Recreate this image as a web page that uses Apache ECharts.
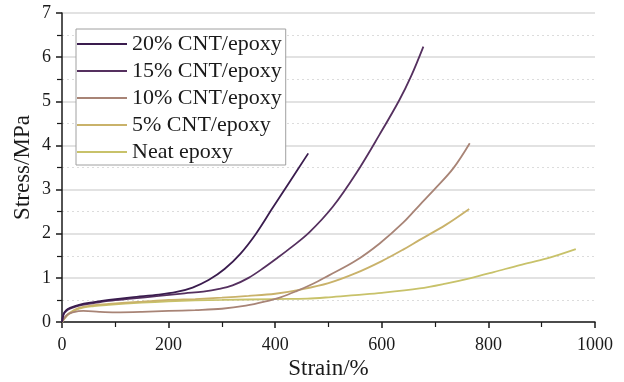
<!DOCTYPE html>
<html lang="en">
<head>
  <meta charset="UTF-8">
  <title>Stress-strain</title>
  <script src="https://cdn.jsdelivr.net/npm/echarts@6/dist/echarts.min.js"></script>
  <style>
    html, body { margin: 0; padding: 0; background: #fff; }
    #chart { width: 624px; height: 382px; }
  </style>
</head>
<body>
  <div id="chart"></div>
  <script>
    var names = ['20% CNT/epoxy', '15% CNT/epoxy', '10% CNT/epoxy', '5% CNT/epoxy', 'Neat epoxy']
    var colors = ['#3a1c4e', '#55305f', '#a88476', '#c9b26a', '#c8c26a']

    // [strain %, stress MPa]
    var cnt20 = [[0, 0], [3, 0.18], [8, 0.27], [15, 0.32], [32, 0.39], [60, 0.45], [88, 0.5], [130, 0.56],
      [182, 0.62], [215, 0.68], [245, 0.78], [275, 0.95], [305, 1.2], [335, 1.55], [364, 2.0], [395, 2.58],
      [427, 3.17], [462, 3.82]]
    var cnt15 = [[0, 0], [3, 0.17], [8, 0.25], [15, 0.3], [32, 0.37], [60, 0.43], [88, 0.48], [130, 0.53],
      [182, 0.59], [230, 0.65], [265, 0.69], [295, 0.75], [320, 0.83], [350, 1.0], [380, 1.24], [405, 1.46],
      [430, 1.69], [464, 2.03], [508, 2.61], [552, 3.37], [596, 4.25], [633, 5.03], [655, 5.57], [678, 6.24]]
    var cnt10 = [[0, 0], [5, 0.1], [12, 0.18], [20, 0.22], [40, 0.25], [70, 0.23], [100, 0.22], [150, 0.23],
      [200, 0.25], [250, 0.27], [300, 0.3], [345, 0.37], [380, 0.46], [410, 0.56], [440, 0.7], [470, 0.86],
      [500, 1.05], [550, 1.38], [596, 1.78], [640, 2.25], [671, 2.65], [700, 3.02], [734, 3.48], [765, 4.05]]
    var cnt5 = [[0, 0], [5, 0.1], [13, 0.2], [32, 0.32], [60, 0.38], [88, 0.41], [150, 0.46], [200, 0.5],
      [250, 0.52], [300, 0.55], [350, 0.59], [400, 0.64], [450, 0.74], [500, 0.88], [550, 1.1], [600, 1.38],
      [640, 1.64], [671, 1.86], [720, 2.2], [764, 2.56]]
    var neat = [[0, 0], [5, 0.08], [13, 0.18], [32, 0.3], [60, 0.36], [88, 0.39], [150, 0.44], [200, 0.47],
      [250, 0.49], [300, 0.5], [400, 0.52], [460, 0.53], [500, 0.56], [550, 0.61], [600, 0.66], [671, 0.76],
      [720, 0.87], [765, 0.99], [810, 1.13], [859, 1.29], [910, 1.44], [964, 1.65]]
    var curves = [cnt20, cnt15, cnt10, cnt5, neat]

    var font = 'Liberation Serif, Times New Roman, serif'
    var ink = '#1a1a1a'
    var chart = echarts.init(document.getElementById('chart'))

    chart.setOption({
      animation: false,
      grid: { left: 62, right: 29, top: 13, bottom: 60, outerBoundsMode: 'none' },
      legend: {
        orient: 'vertical',
        left: 76,
        top: 29,
        padding: [4, 4, 2, 1],
        icon: 'rect',
        itemWidth: 50,
        itemHeight: 2,
        itemGap: 5,
        borderColor: '#a0a0a0',
        borderWidth: 1,
        backgroundColor: '#fff',
        textStyle: { fontFamily: font, fontSize: 22, color: ink, lineHeight: 22 },
        data: names
      },
      xAxis: {
        type: 'value',
        min: 0,
        max: 1000,
        interval: 200,
        name: 'Strain/%',
        nameLocation: 'middle',
        nameGap: 35,
        nameMoveOverlap: false,
        nameTextStyle: { fontFamily: font, fontSize: 23, color: ink },
        axisLine: { lineStyle: { color: ink, width: 1.5 } },
        axisTick: { inside: false, length: 6, lineStyle: { color: ink, width: 1.5 } },
        minorTick: { show: true, splitNumber: 2, length: 5, lineStyle: { color: ink, width: 1.2 } },
        axisLabel: { fontFamily: font, fontSize: 18, color: ink, margin: 14, formatter: function (v) { return String(v) } },
        splitLine: { show: false }
      },
      yAxis: {
        type: 'value',
        min: 0,
        max: 7,
        interval: 1,
        name: 'Stress/MPa',
        nameLocation: 'middle',
        nameGap: 28,
        nameMoveOverlap: false,
        nameTextStyle: { fontFamily: font, fontSize: 23, color: ink },
        axisLine: { show: true, lineStyle: { color: ink, width: 1.5 } },
        axisTick: { show: true, inside: false, length: 6, lineStyle: { color: ink, width: 1.5 } },
        minorTick: { show: true, splitNumber: 2, length: 5, lineStyle: { color: ink, width: 1.2 } },
        axisLabel: { fontFamily: font, fontSize: 18, color: ink, margin: 11 },
        splitLine: { show: true, lineStyle: { color: '#d8d8d8', width: 1.5 } },
        minorSplitLine: { show: true, lineStyle: { color: '#dcdcdc', width: 1, type: [2, 3] } }
      },
      series: names.map(function (n, i) {
        return {
          name: n,
          type: 'line',
          data: curves[i],
          smooth: 0.35,
          symbol: 'none',
          color: colors[i],
          lineStyle: { color: colors[i], width: 1.8 },
          z: 10 - i
        }
      })
    })
  </script>
</body>
</html>
